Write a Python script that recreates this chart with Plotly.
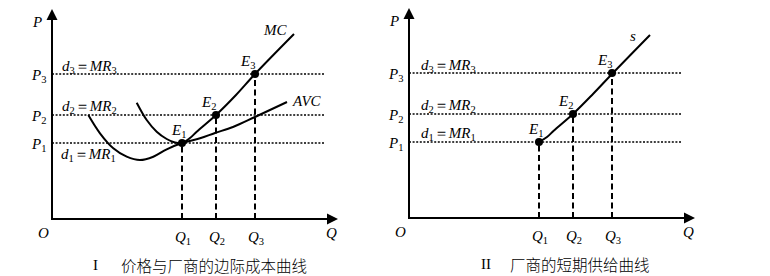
import plotly.graph_objects as go

# ---- data (economic units) ----
P = [7.6, 10.4, 14.5]          # P1, P2, P3
Q = [13.0, 16.4, 20.3]         # Q1, Q2, Q3
price_labels = ["<i>P</i><sub>1</sub>", "<i>P</i><sub>2</sub>", "<i>P</i><sub>3</sub>"]
qty_labels = ["<i>Q</i><sub>1</sub>", "<i>Q</i><sub>2</sub>", "<i>Q</i><sub>3</sub>"]
mr_labels = ["<i>d</i><sub>1</sub>＝<i>MR</i><sub>1</sub>",
             "<i>d</i><sub>2</sub>＝<i>MR</i><sub>2</sub>",
             "<i>d</i><sub>3</sub>＝<i>MR</i><sub>3</sub>"]
e_labels = ["<i>E</i><sub>1</sub>", "<i>E</i><sub>2</sub>", "<i>E</i><sub>3</sub>"]

mc_x = [8.47, 9.47, 10.47, 11.47, 12.3, 13.0, 13.8, 14.47, 16.4, 18.4, 20.3, 24.2]
mc_y = [11.63, 9.9, 8.73, 8.0, 7.65, 7.6, 8.1, 8.73, 10.4, 12.4, 14.5, 18.5]

avc_x = [3.63, 4.8, 6.13, 7.47, 8.8, 10.13, 11.47, 13.0, 14.8, 16.3, 18.1, 20.3, 23.5]
avc_y = [10.4, 8.57, 7.07, 6.23, 5.9, 6.23, 6.97, 7.6, 8.07, 8.6, 9.2, 10.2, 11.7]

s_x = [13.0, 13.8, 14.47, 16.4, 18.4, 20.3, 24.1]
s_y = [7.6, 8.1, 8.73, 10.4, 12.4, 14.4, 18.3]

captions = ["价格与厂商的边际成本曲线", "厂商的短期供给曲线"]
roman = ["I", "II"]

X_END = 28.6
Y_END = 21.0
DOT_END = 27.3

SERIF = "Liberation Serif"
CJK = "Noto Sans CJK SC"
BLACK = "black"

fig = go.Figure()

panels = [("x", "y"), ("x2", "y2")]

annotations = []
for pi, (xa, ya) in enumerate(panels):
    # dotted price lines
    for p in P:
        fig.add_trace(go.Scatter(x=[0, DOT_END], y=[p, p], mode="lines", xaxis=xa, yaxis=ya,
                                 line=dict(color=BLACK, width=1.6, dash="2px,1.6px"),
                                 hoverinfo="skip", showlegend=False))
    # dashed quantity lines
    for q, p in zip(Q, P):
        fig.add_trace(go.Scatter(x=[q, q], y=[0, p], mode="lines", xaxis=xa, yaxis=ya,
                                 line=dict(color=BLACK, width=2, dash="6px,3.5px"),
                                 hoverinfo="skip", showlegend=False))
    if pi == 0:
        fig.add_trace(go.Scatter(x=mc_x, y=mc_y, mode="lines", xaxis=xa, yaxis=ya,
                                 line=dict(color=BLACK, width=2, shape="spline", smoothing=1.0),
                                 hoverinfo="skip", showlegend=False))
        fig.add_trace(go.Scatter(x=avc_x, y=avc_y, mode="lines", xaxis=xa, yaxis=ya,
                                 line=dict(color=BLACK, width=2, shape="spline", smoothing=1.0),
                                 hoverinfo="skip", showlegend=False))
    else:
        fig.add_trace(go.Scatter(x=s_x, y=s_y, mode="lines", xaxis=xa, yaxis=ya,
                                 line=dict(color=BLACK, width=2, shape="spline", smoothing=1.0),
                                 hoverinfo="skip", showlegend=False))
    # equilibrium points
    fig.add_trace(go.Scatter(x=Q, y=P, mode="markers", xaxis=xa, yaxis=ya,
                             marker=dict(color=BLACK, size=8),
                             hoverinfo="skip", showlegend=False))

    # axes lines
    fig.add_trace(go.Scatter(x=[X_END - 0.6, 0, 0], y=[0, 0, Y_END - 0.6], mode="lines",
                             xaxis=xa, yaxis=ya, line=dict(color=BLACK, width=2),
                             hoverinfo="skip", showlegend=False))
    # arrowheads
    for (x1, y1, x0, y0) in [(X_END, 0, X_END - 1, 0), (0, Y_END, 0, Y_END - 1)]:
        annotations.append(dict(x=x1, y=y1, ax=x0, ay=y0, xref=xa, yref=ya, axref=xa, ayref=ya,
                                showarrow=True, arrowhead=2, arrowsize=1.1, arrowwidth=2,
                                arrowcolor=BLACK, text=" ", font=dict(size=1)))

    def txt(x, y, t, size=15, family=SERIF, xanchor="center", weight=None):
        f = dict(family=family, size=size, color=BLACK)
        if weight is not None:
            f["weight"] = weight
        annotations.append(dict(x=x, y=y, xref=xa, yref=ya, text=t, showarrow=False,
                                font=f, xanchor=xanchor, yanchor="middle"))

    txt(-1.5, 19.7, "<i>P</i>")
    for p, lab in zip(P, price_labels):
        txt(-1.4, p - 0.2, lab)
    txt(-0.9, -1.4, "<i>O</i>")
    txt(27.9, -1.4, "<i>Q</i>")
    for q, lab in zip(Q, qty_labels):
        txt(q + 0.1, -1.9, lab)

    e_off = [(-0.4, 1.2), (-0.8, 1.2), (-0.8, 1.2)]
    for q, p, lab, (dx, dy) in zip(Q, P, e_labels, e_off):
        txt(q + dx, p + dy, lab)

    mr_y = [P[0] - 1.2 if pi == 0 else P[0] + 0.85, P[1] + 0.8, P[2] + 0.75]
    mr_x = [3.6, 3.7, 3.7] if pi == 0 else [3.9, 3.9, 3.9]
    for x_, y_, lab in zip(mr_x, mr_y, mr_labels):
        txt(x_, y_, lab)

    if pi == 0:
        txt(22.3, 18.9, "<i>MC</i>")
        txt(25.5, 11.8, "<i>AVC</i>")
        txt(4.35, -4.6, roman[0])
        txt(16.2, -4.6, captions[0], size=15.5, family=CJK, weight=300)
    else:
        txt(22.4, 18.2, "<i>s</i>")
        txt(7.7, -4.55, roman[1])
        txt(17.1, -4.55, captions[1], size=15.5, family=CJK, weight=300)

fig.update_layout(
    width=770, height=276,
    margin=dict(l=0, r=0, t=0, b=0),
    paper_bgcolor="white", plot_bgcolor="white",
    annotations=annotations,
    xaxis=dict(domain=[0, 0.5], range=[-5.2, 33.3], visible=False),
    yaxis=dict(domain=[0, 1], range=[-5.7, 21.9], visible=False),
    xaxis2=dict(domain=[0.5, 1], range=[-2.4, 36.1], visible=False),
    yaxis2=dict(domain=[0, 1], range=[-5.8, 21.8], visible=False, anchor="x2"),
)

fig.write_html("out.html")
